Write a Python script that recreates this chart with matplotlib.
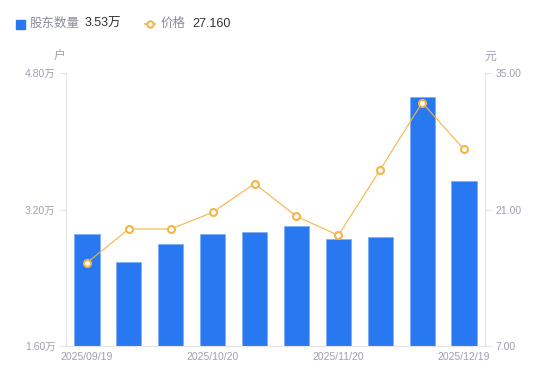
import matplotlib
matplotlib.use("Agg")
import matplotlib.pyplot as plt
from matplotlib.lines import Line2D
import numpy as np

plt.rcParams['font.family'] = ['Liberation Sans', 'Noto Sans CJK SC', 'DejaVu Sans']

dates = ["2025/09/19", "2025/09/30", "2025/10/10", "2025/10/20", "2025/10/31",
         "2025/11/10", "2025/11/20", "2025/11/28", "2025/12/10", "2025/12/19"]
holders = [2.91, 2.58, 2.79, 2.91, 2.94, 3.01, 2.85, 2.88, 4.52, 3.53]  # 万户
price = [15.54, 19.0, 19.0, 20.71, 23.65, 20.3, 18.35, 25.08, 31.96, 27.16]
left_ticks = [1.60, 3.20, 4.80]
right_ticks = [7.00, 21.00, 35.00]
shown_idx = [0, 3, 6, 9]

W, H = 550, 381
fig = plt.figure(figsize=(W/100, H/100), dpi=100)
ax = fig.add_axes([66/W, 1-346/H, (485-66)/W, (346-73)/H])
ax2 = ax.twinx()

bar_c = '#2878F2'
line_c = '#F7B444'
grid_c = '#E3E3E8'
txt_c = '#9EA0AE'

x = np.arange(len(dates))
ax.bar(x, holders, width=0.6, color=bar_c, edgecolor='#7FB0F8', linewidth=0.6, zorder=2)
ax.set_xlim(-0.5, len(dates)-0.5)
ax.set_ylim(left_ticks[0], left_ticks[-1])
ax.set_yticks(left_ticks)
ax.set_yticklabels([f"{v:.2f}万" for v in left_ticks])
ax.set_xticks(x[shown_idx])
ax.set_xticklabels([dates[i] for i in shown_idx])

ax2.plot(x, price, color=line_c, linewidth=0.8, marker='o', markersize=5,
         markerfacecolor='white', markeredgecolor=line_c, markeredgewidth=1.5, zorder=3)
ax2.set_ylim(right_ticks[0], right_ticks[-1])
ax2.set_yticks(right_ticks)
ax2.set_yticklabels([f"{v:.2f}" for v in right_ticks])

for a in (ax, ax2):
    for s in a.spines.values():
        s.set_visible(False)
    a.tick_params(colors=txt_c, labelsize=7.5, length=4, width=0.8)
    a.tick_params(axis='y', color=grid_c)
ax.spines['left'].set_visible(True)
ax.spines['left'].set_color(grid_c)
ax2.spines['right'].set_visible(True)
ax2.spines['right'].set_color(grid_c)
ax.spines['bottom'].set_visible(True)
ax.spines['bottom'].set_color(grid_c)
ax.tick_params(axis='x', length=0, pad=4)
ax.set_zorder(ax2.get_zorder() - 1)
ax.patch.set_visible(True)
ax2.patch.set_visible(False)

fig.text(59/W, 1-57/H, "户", color=txt_c, fontsize=8.5, ha='center', va='center')
fig.text(490/W, 1-57/H, "元", color=txt_c, fontsize=8.5, ha='center', va='center')

# legend
fig.patches.append(plt.Rectangle((16/W, 1-29/H), 9/W, 9/H, transform=fig.transFigure,
                                 color=bar_c, figure=fig))
fig.text(30/W, 1-24/H, "股东数量", color='#8A8C99', fontsize=9, va='center')
fig.text(85/W, 1-24/H, f"{holders[-1]:.2f}万", color='#333333', fontsize=9, va='center')
fig.lines.append(Line2D([145/W, 155/W], [1-24/H, 1-24/H], transform=fig.transFigure,
                        color=line_c, linewidth=1.2))
fig.lines.append(Line2D([150/W], [1-24/H], transform=fig.transFigure,
                        color=line_c, marker='o', markersize=4.5, linestyle='none',
                        markerfacecolor='white', markeredgecolor=line_c, markeredgewidth=1.5))
fig.text(161/W, 1-24/H, "价格", color='#8A8C99', fontsize=9, va='center')
fig.text(192/W, 1-24/H, f"{price[-1]:.3f}", color='#333333', fontsize=9, va='center')

fig.savefig("out.png", dpi=100)
